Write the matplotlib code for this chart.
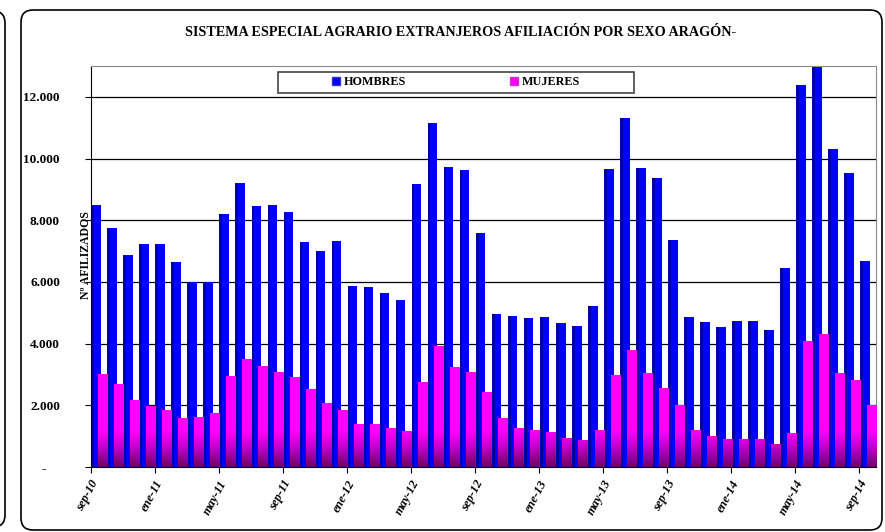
import matplotlib
matplotlib.use('Agg')
import matplotlib.pyplot as plt
import numpy as np
from matplotlib.patches import FancyBboxPatch, Rectangle, Patch
from matplotlib.colors import LinearSegmentedColormap
from matplotlib.transforms import ScaledTranslation

meses = ['sep-10', 'oct-10', 'nov-10', 'dic-10', 'ene-11', 'feb-11', 'mar-11', 'abr-11',
         'may-11', 'jun-11', 'jul-11', 'ago-11', 'sep-11', 'oct-11', 'nov-11', 'dic-11',
         'ene-12', 'feb-12', 'mar-12', 'abr-12', 'may-12', 'jun-12', 'jul-12', 'ago-12',
         'sep-12', 'oct-12', 'nov-12', 'dic-12', 'ene-13', 'feb-13', 'mar-13', 'abr-13',
         'may-13', 'jun-13', 'jul-13', 'ago-13', 'sep-13', 'oct-13', 'nov-13', 'dic-13',
         'ene-14', 'feb-14', 'mar-14', 'abr-14', 'may-14', 'jun-14', 'jul-14', 'ago-14',
         'sep-14']

hombres = [8480, 7760, 6870, 7230, 7240, 6645, 6000, 6000, 8200, 9200,
           8450, 8480, 8270, 7280, 7000, 7320, 5870, 5820, 5640, 5420,
           9160, 11150, 9730, 9630, 7600, 4960, 4880, 4820, 4860, 4680,
           4570, 5210, 9675, 11310, 9700, 9370, 7360, 4850, 4700, 4530,
           4730, 4730, 4430, 6440, 12370, 12990, 10310, 9545, 6670]

mujeres = [3000, 2695, 2165, 1970, 1850, 1600, 1610, 1750, 2940, 3505,
           3290, 3085, 2920, 2530, 2070, 1850, 1405, 1385, 1277, 1170,
           2750, 3907, 3247, 3084, 2435, 1590, 1277, 1212, 1136, 942,
           887, 1212, 2987, 3799, 3041, 2565, 2002, 1212, 996, 909,
           920, 898, 758, 1115, 4069, 4318, 3041, 2814, 2013]

y_ticks = [0, 2000, 4000, 6000, 8000, 10000, 12000]
y_labels = ['-    ', '2.000', '4.000', '6.000', '8.000', '10.000', '12.000']

titulo = 'SISTEMA ESPECIAL AGRARIO EXTRANJEROS AFILIACIÓN POR SEXO ARAGÓN-'

serif = 'Liberation Serif'
W, H = 885, 532

fig = plt.figure(figsize=(W / 100, H / 100), dpi=100)
ax = fig.add_axes([90.5 / W, 1 - 467 / H, 785 / W, 401 / H])

x = np.arange(len(meses))

# blue bars with a darker left side
ax.bar(x + 0.35, hombres, width=0.6, color='#0000FF', linewidth=0, zorder=2)
ax.bar(x + 0.05, hombres, width=0.17, align='edge', color='#00009E', linewidth=0, zorder=2.1)

# pink bars, darker near the base (shading over the lowest ~1500)
pink_bars = ax.bar(x + 0.76, mujeres, width=0.6, color='#FF00FF', linewidth=0, zorder=3)
cmap = LinearSegmentedColormap.from_list('rosa', [(0, '#6E006E'), (0.45, '#C800C8'),
                                                  (0.8, '#FF00FF'), (1, '#FF00FF')])
rows = np.linspace(0, 13000, 521)
grad = np.clip(rows / 1500, 0, 1).reshape(-1, 1)
for b in pink_bars:
    im = ax.imshow(grad, extent=[b.get_x(), b.get_x() + b.get_width(), 0, 13000],
                   origin='lower', aspect='auto', cmap=cmap, vmin=0, vmax=1, zorder=3.1,
                   interpolation='nearest')
    im.set_clip_path(b)

ax.set_xlim(0, len(meses))
ax.set_ylim(0, 13000)

ax.set_yticks(y_ticks)
ax.set_yticklabels(y_labels, fontfamily=serif, fontweight='bold', fontsize=9.5)
ax.yaxis.grid(True, color='black', linewidth=0.9, zorder=1)
ax.set_axisbelow(True)
ax.tick_params(axis='y', length=4, pad=18)

ax.set_xticks(x[::4])
ax.set_xticklabels(meses[::4], rotation=62, ha='right', va='center', rotation_mode='anchor',
                   fontfamily=serif, fontweight='bold', fontstyle='italic', fontsize=9)
ax.tick_params(axis='x', length=4, pad=6)
shift = ScaledTranslation(5 / 100, 0, fig.dpi_scale_trans)
for lbl in ax.get_xticklabels():
    lbl.set_transform(lbl.get_transform() + shift)

for s in ['top', 'right']:
    ax.spines[s].set_color('#888888')
for s in ['left', 'bottom']:
    ax.spines[s].set_color('black')

fig.text(461 / W, 1 - 32 / H, titulo, ha='center', va='center',
         fontfamily=serif, fontweight='bold', fontsize=10.2)
fig.text(86 / W, 1 - 255 / H, 'Nº AFILIZADOS', rotation=90, ha='center', va='center',
         fontfamily=serif, fontweight='bold', fontsize=8.5)

handles = [Patch(facecolor='#0000FF', edgecolor='#3333CC'),
           Patch(facecolor='#FF00FF', edgecolor='#CC33CC')]
fig.legend(handles, ['HOMBRES', 'MUJERES'], loc='center', bbox_to_anchor=(456 / W, 1 - 82 / H),
           ncol=2, frameon=False, columnspacing=8.6, handlelength=0.65, handleheight=0.65,
           handletextpad=0.3, prop=dict(family=serif, weight='bold', size=8.7))
fig.add_artist(Rectangle((278 / W, 1 - 92.5 / H), 356 / W, 21 / H, transform=fig.transFigure,
                         fill=False, edgecolor='#444444', linewidth=1.2))

# outer chart frames
fig.add_artist(FancyBboxPatch((0.21, 0.02), 8.61, 5.20, boxstyle='round,pad=0,rounding_size=0.12',
                              transform=fig.dpi_scale_trans, fill=False, edgecolor='black',
                              linewidth=1.2))
fig.add_artist(FancyBboxPatch((-0.4, 0.05), 0.45, 5.16, boxstyle='round,pad=0,rounding_size=0.12',
                              transform=fig.dpi_scale_trans, fill=False, edgecolor='black',
                              linewidth=1.2))

fig.savefig('out.png', dpi=100)
